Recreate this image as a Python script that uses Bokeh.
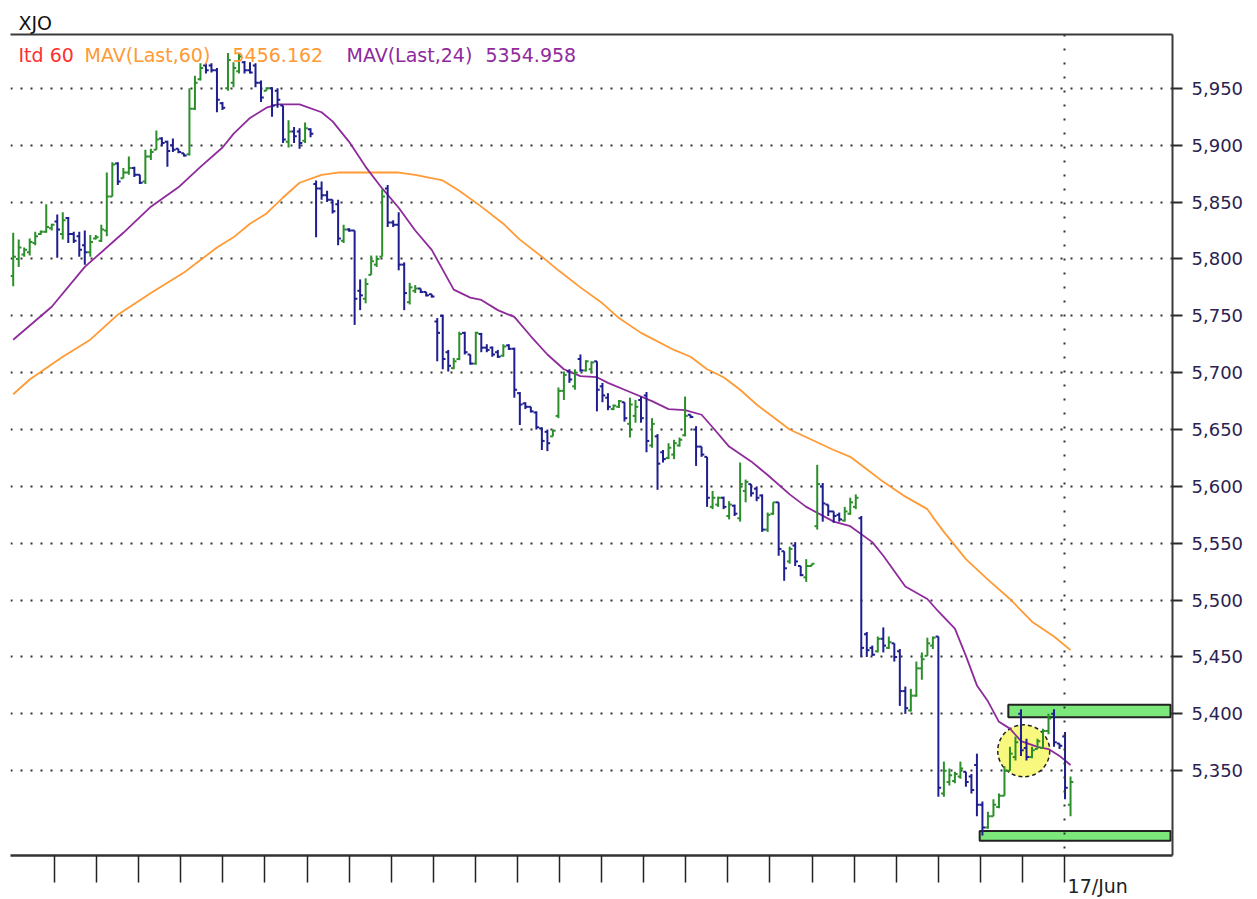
import numpy as np
from bokeh.plotting import figure
from bokeh.models import (Range1d, LinearAxis, FixedTicker, NumeralTickFormatter,
                          Label, Span, ColumnDataSource)
from bokeh.embed import file_html
from bokeh.resources import INLINE

# ---------------- data (60-minute bars, XJO) ----------------
opens = [5785,5800,5804,5806,5814,5822,5824,5827,5833,5822,5836,5822,5820,5812,5806,5818,5816,5825,5855,5884,
         5871,5876,5880,5874,5868,5890,5896,5906,5903,5900,5897,5893,5892,5932,5958,5970,5970,5966,5937,5950,
         5955,5965,5973,5966,5970,5955,5948,5950,5948,5935,5903,5912,5912,5904,5914,5866,5862,5856,5852,5848,
         5816,5826,5825,5772,5765,5786,5795,5802,5862,5832,5830,5795,5762,5772,5774,5771,5769,5745,5750,5718,
         5704,5712,5735,5716,5708,5734,5722,5722,5718,5715,5724,5721,5682,5673,5670,5665,5651,5648,5644,5662,
         5684,5701,5688,5712,5702,5703,5710,5688,5678,5668,5670,5674,5655,5662,5676,5680,5636,5644,5630,5625,
         5628,5636,5645,5663,5650,5635,5626,5582,5584,5590,5574,5583,5572,5596,5602,5598,5592,5562,5576,5586,
         5543,5534,5548,5530,5520,5530,5565,5600,5584,5578,5575,5570,5576,5582,5572,5470,5458,5455,5466,5458,
         5462,5455,5420,5403,5416,5440,5451,5460,5468,5330,5340,5341,5345,5349,5345,5355,5320,5300,5310,5318,
         5328,5350,5362,5400,5370,5362,5369,5370,5385,5400,5374,5380,5320]
highs = [5823,5817,5810,5818,5824,5825,5848,5831,5839,5841,5837,5824,5824,5825,5821,5821,5830,5876,5885,5885,
         5880,5890,5881,5874,5896,5897,5913,5907,5904,5906,5897,5893,5950,5961,5972,5972,5972,5968,5938,5981,
         5973,5981,5974,5973,5972,5957,5951,5951,5950,5935,5922,5916,5915,5920,5915,5869,5868,5860,5852,5852,
         5830,5827,5825,5782,5783,5803,5803,5861,5865,5834,5841,5797,5779,5777,5774,5771,5769,5748,5751,5720,
         5713,5736,5736,5716,5736,5735,5725,5723,5720,5725,5725,5722,5683,5674,5670,5666,5652,5650,5650,5687,
         5701,5703,5703,5716,5711,5710,5710,5691,5682,5672,5676,5674,5678,5676,5679,5683,5660,5646,5632,5638,
         5641,5643,5679,5663,5653,5635,5626,5596,5591,5591,5587,5584,5621,5606,5602,5600,5593,5577,5586,5586,
         5543,5547,5551,5530,5536,5532,5619,5603,5584,5578,5577,5582,5590,5593,5574,5472,5460,5468,5476,5468,
         5462,5457,5424,5422,5446,5454,5467,5468,5468,5358,5352,5349,5358,5349,5347,5365,5323,5314,5325,5330,
         5354,5371,5380,5404,5378,5371,5378,5387,5400,5404,5374,5384,5345]
lows = [5776,5793,5802,5803,5812,5821,5823,5825,5801,5817,5814,5814,5802,5795,5802,5817,5815,5820,5855,5865,
        5871,5874,5872,5866,5866,5887,5896,5899,5881,5894,5893,5890,5891,5931,5957,5963,5964,5929,5931,5948,
        5951,5963,5963,5963,5951,5938,5948,5925,5933,5902,5898,5902,5897,5902,5907,5819,5852,5850,5840,5812,
        5814,5824,5742,5755,5761,5786,5793,5802,5828,5828,5790,5755,5760,5770,5770,5767,5766,5710,5703,5701,
        5703,5711,5716,5707,5707,5718,5718,5714,5713,5714,5720,5678,5654,5668,5665,5650,5632,5631,5644,5660,
        5676,5691,5685,5701,5701,5700,5666,5674,5667,5667,5669,5657,5643,5656,5656,5630,5634,5597,5621,5624,
        5624,5635,5644,5660,5618,5626,5582,5580,5582,5580,5571,5574,5569,5586,5591,5587,5560,5560,5575,5539,
        5517,5532,5530,5521,5516,5530,5562,5569,5574,5568,5569,5569,5575,5580,5450,5450,5451,5454,5454,5457,
        5446,5407,5400,5402,5415,5430,5451,5457,5327,5327,5337,5339,5343,5336,5330,5310,5293,5299,5310,5317,
        5328,5350,5359,5363,5359,5361,5369,5369,5382,5371,5369,5325,5310]
closes = [5802,5810,5808,5815,5820,5824,5828,5830,5826,5834,5822,5816,5808,5806,5815,5819,5826,5855,5883,5868,
          5876,5880,5874,5867,5890,5894,5905,5902,5895,5896,5894,5891,5932,5955,5968,5966,5966,5940,5933,5975,
          5968,5978,5966,5964,5955,5942,5950,5935,5940,5905,5912,5908,5902,5915,5910,5862,5856,5852,5842,5818,
          5826,5825,5765,5768,5778,5798,5800,5855,5832,5830,5795,5770,5775,5774,5771,5768,5767,5735,5712,5706,
          5710,5734,5718,5708,5735,5722,5720,5716,5714,5723,5721,5685,5672,5670,5666,5652,5640,5638,5649,5684,
          5698,5694,5700,5702,5710,5709,5685,5680,5670,5671,5675,5660,5672,5670,5660,5640,5655,5620,5624,5634,
          5638,5641,5662,5661,5635,5628,5590,5590,5590,5582,5584,5576,5602,5604,5594,5590,5562,5575,5586,5545,
          5528,5545,5534,5522,5530,5532,5602,5585,5578,5574,5571,5578,5586,5590,5458,5456,5452,5466,5460,5463,
          5450,5420,5405,5416,5440,5448,5462,5467,5335,5350,5346,5347,5352,5340,5333,5320,5300,5310,5320,5328,
          5350,5365,5375,5368,5362,5368,5376,5385,5396,5375,5372,5335,5340]

mav24_bar = [0,7,13,20,25,30,34,38,40,43,46,48,52,56,58,61,64,67,70,73,76,80,83,85,88,91,94,97,100,103,
             106,108,112,116,119,122,125,127,130,134,137,141,144,149,152,156,158,162,166,168,171,173,175,177,
             179,181,183,186,188,190,192]
mav24 = [5729,5758,5793,5823,5846,5863,5881,5898,5910,5924,5933,5936,5936,5929,5921,5903,5881,5862,5845,5825,
         5808,5773,5766,5764,5755,5749,5732,5716,5703,5697,5696,5691,5683,5675,5668,5667,5663,5652,5635,5622,
         5610,5593,5582,5569,5565,5551,5539,5512,5501,5490,5475,5451,5425,5411,5393,5387,5376,5371,5369,5363,
         5355]
mav60_bar = [0,3,9,14,19,25,31,34,37,40,43,46,49,52,56,59,70,73,78,81,85,89,92,96,99,103,107,110,114,120,
             123,126,129,132,135,138,141,145,149,152,155,158,162,166,167,169,173,177,181,185,189,192]
mav60 = [5681,5694,5714,5729,5751,5770,5788,5799,5810,5819,5831,5840,5854,5867,5874,5876,5876,5874,5869,5860,
         5846,5831,5817,5802,5790,5775,5761,5748,5735,5720,5714,5703,5696,5685,5672,5661,5650,5641,5632,5626,
         5615,5604,5591,5580,5573,5560,5536,5518,5501,5481,5468,5456]

price_ticks = [5350, 5400, 5450, 5500, 5550, 5600, 5650, 5700, 5750, 5800, 5850, 5900, 5950]
day_label = "17/Jun"
zone_start = [180.7, 175.5]
zone_bottom = [5397, 5288.5]
zone_top = [5408, 5297]
circle_bar = [183.5]
circle_price = [5367.5]

legend_parts = ["Itd 60", "MAV(Last,60)", "5456.162", "MAV(Last,24)", "5354.958"]

# ---------------- layout helpers ----------------
X0_PX, BAR_PX = 12.7, 5.507   # screen px of bar 0, px per bar
Y_REF, Y_REF_PX, PX_PER_PT = 5950, 88, 1.14
def sx(px):
    return (px - X0_PX) / BAR_PX
def sy(py):
    return Y_REF - (py - Y_REF_PX) / PX_PER_PT

FONT = "DejaVu Sans"
GREEN = "#2b8f2b"
BLUE = "#1e1e8e"
PURPLE = "#8e2a9c"
ORANGE = "#ff9a35"

n = len(closes)
idx = np.arange(n)
colors = [GREEN if c >= o else BLUE for o, c in zip(opens, closes)]

p = figure(width=1257, height=899, output_backend="svg", toolbar_location=None,
           x_range=Range1d(sx(10), sx(1172)), y_range=Range1d(sy(857), sy(34)),
           x_axis_location=None, y_axis_location=None,
           min_border_left=10, min_border_right=85, min_border_top=34, min_border_bottom=42,
           background_fill_color="white", border_fill_color="white")
p.outline_line_color = None

# title "XJO"
p.title.text = "XJO"
p.title.align = "left"
p.title.offset = 8
p.title.text_font = FONT
p.title.text_font_size = "19px"
p.title.text_font_style = "normal"
p.title.text_color = "#111111"
p.title.standoff = 2

# axes
yaxis = LinearAxis(ticker=FixedTicker(ticks=price_ticks), formatter=NumeralTickFormatter(format="0,0"))
yaxis.axis_line_width = 2
yaxis.axis_line_color = "#3a3a3a"
yaxis.major_tick_out = 10
yaxis.major_tick_in = 0
yaxis.major_tick_line_width = 2
yaxis.major_tick_line_color = "#2a2a2a"
yaxis.minor_tick_line_color = None
yaxis.major_label_standoff = 9
yaxis.major_label_text_font = FONT
yaxis.major_label_text_font_size = "18px"
yaxis.major_label_text_color = "#2a2350"
p.add_layout(yaxis, "right")

day_ticks = list(np.linspace(sx(54), sx(1064), 25))
overrides = {t: "" for t in day_ticks}
overrides[day_ticks[-1]] = "\u00a0" * 11 + day_label
xaxis = LinearAxis(ticker=FixedTicker(ticks=day_ticks), major_label_overrides=overrides)
xaxis.axis_line_width = 2.5
xaxis.axis_line_color = "#333333"
xaxis.major_tick_out = 27
xaxis.major_tick_in = 0
xaxis.major_tick_line_width = 1.5
xaxis.major_tick_line_color = "#222222"
xaxis.minor_tick_line_color = None
xaxis.major_label_text_font = FONT
xaxis.major_label_text_font_size = "19px"
xaxis.major_label_text_color = "#222222"
xaxis.major_label_standoff = -8
p.add_layout(xaxis, "below")

top_axis = LinearAxis(ticker=FixedTicker(ticks=[]))
top_axis.axis_line_width = 2
top_axis.axis_line_color = "#3a3a3a"
top_axis.major_tick_out = 0
top_axis.major_tick_in = 0
top_axis.minor_tick_line_color = None
top_axis.major_label_text_font_size = "1px"
top_axis.major_label_text_color = None
top_axis.major_label_standoff = 0
p.add_layout(top_axis, "above")

# grid
p.ygrid.ticker = FixedTicker(ticks=price_ticks)
p.ygrid.grid_line_color = "#333333"
p.ygrid.grid_line_dash = "2 8"
p.ygrid.grid_line_width = 2
p.xgrid.visible = False
p.add_layout(Span(location=day_ticks[-1], dimension="height", line_color="#333333",
                  line_dash="2 12", line_width=2))

# zones & highlight
p.quad(left=zone_start, right=[sx(1170)] * 2, bottom=zone_bottom, top=zone_top,
       fill_color="#7ce87c", line_color="#222222", line_width=2)
p.scatter(x=circle_bar, y=circle_price, size=52, fill_color="#f8f77e",
          line_color="#222222", line_dash="4 3", line_width=1.5)

# moving averages
p.line(mav60_bar, mav60, line_color=ORANGE, line_width=1.8)
p.line(mav24_bar, mav24, line_color=PURPLE, line_width=1.8)

# OHLC bars
src = ColumnDataSource(dict(x=idx, xl=idx - 0.5, xr=idx + 0.5, o=opens, h=highs,
                            l=lows, c=closes, color=colors))
p.segment(x0="x", y0="l", x1="x", y1="h", line_color="color", line_width=2, source=src)
p.segment(x0="xl", y0="o", x1="x", y1="o", line_color="color", line_width=2, source=src)
p.segment(x0="x", y0="c", x1="xr", y1="c", line_color="color", line_width=2, source=src)

# legend line
legend_px = [18, 84, 232, 346, 485]
legend_colors = ["#ff3030", ORANGE, ORANGE, PURPLE, PURPLE]
for txt, px, col in zip(legend_parts, legend_px, legend_colors):
    p.add_layout(Label(x=sx(px), y=sy(55), text=txt, text_font=FONT, text_font_size="19px",
                       text_color=col, text_baseline="middle", text_align="left"))

open("out.html", "w").write(file_html(p, INLINE))
